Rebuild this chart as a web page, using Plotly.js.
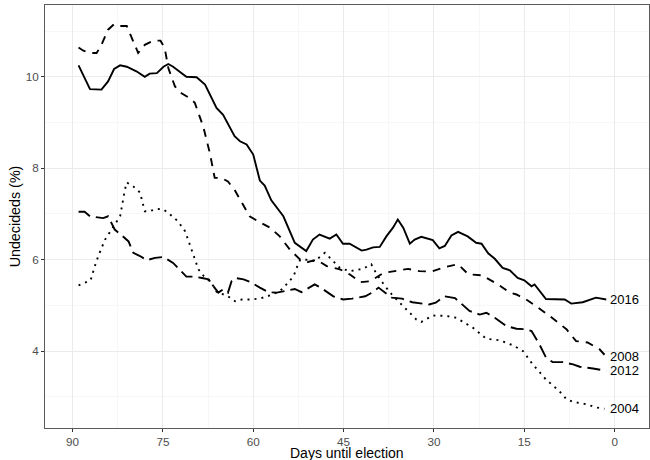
<!DOCTYPE html>
<html>
<head>
<meta charset="utf-8">
<script src="https://cdn.plot.ly/plotly-3.0.1.min.js"></script>
<style>html,body{margin:0;padding:0;background:#fff;}#chart{width:650px;height:460px;}</style>
</head>
<body>
<div id="chart"></div>
<script>
// Days until election (x) and undecided share (%) per election year
const days2016 = [89,88.2,87.1,85.2,84.1,83.1,82.1,81,79.4,78,77.2,76,74.9,74.1,73.3,71.1,69.4,68,66.1,65,63.1,62.2,61.1,60,58.9,58.1,57,55,53.9,53.1,51.2,50.1,49,47.3,46.2,45.1,44,42,41.2,40.1,39,37.9,36.8,36,35.1,34,33.2,32.1,30.2,29.1,28.2,27.1,26,24.4,23,22.1,21,19.9,18.6,17.4,16.1,15,13.8,13.3,11.4,8.3,7.2,5.3,3.1,1.4];
const vals2016 = [10.25,10.04,9.73,9.72,9.90,10.17,10.25,10.22,10.12,10.00,10.07,10.08,10.22,10.28,10.22,10.00,9.99,9.83,9.32,9.17,8.70,8.59,8.52,8.30,7.73,7.62,7.30,6.95,6.62,6.37,6.19,6.44,6.55,6.46,6.55,6.35,6.35,6.20,6.22,6.27,6.28,6.51,6.70,6.88,6.70,6.35,6.44,6.50,6.43,6.25,6.30,6.53,6.61,6.51,6.37,6.35,6.14,6.02,5.82,5.77,5.60,5.55,5.42,5.46,5.14,5.13,5.04,5.07,5.17,5.13];

const days2008 = [89,88.2,86.8,86,85.2,84.1,83.1,82.1,81,80,79.1,78,76.6,75.4,74.7,74.1,73,71.9,70.5,69.7,68.3,67.2,66.4,65.3,64.2,63.1,61.7,60.6,59.2,57.2,55.6,53.9,52.2,50.9,49.5,47.8,45.6,44,42.2,40.6,38.4,36.2,34.3,32.4,30.4,28.2,26,24.3,22.1,19.6,17.4,16.3,14.7,13,10.8,8,6.4,4.5,2.5,1.4];
const vals2008 = [10.64,10.57,10.52,10.52,10.70,11.03,11.15,11.11,11.11,10.81,10.52,10.70,10.79,10.79,10.63,10.19,9.79,9.64,9.53,9.43,8.91,8.33,7.79,7.79,7.71,7.53,7.21,6.95,6.84,6.70,6.51,6.22,6.00,5.95,6.00,5.86,5.79,5.68,5.51,5.53,5.71,5.75,5.80,5.75,5.74,5.84,5.90,5.68,5.66,5.48,5.28,5.24,5.13,4.98,4.77,4.48,4.22,4.19,4.04,3.88];

const days2012 = [89,88,87.1,84.9,84.1,83,81.8,80.7,79.9,78.8,77.7,76.3,74.9,73.3,71.1,69.7,68.5,67.4,66.6,65.8,65,64.2,63.6,63,61.6,60.3,58.9,57.5,56.1,55,53.1,52,50.6,49.8,48.7,47.8,46.7,45.1,43.6,41.4,40.3,39.2,37.8,37,35.3,33.6,30.8,29.7,28.3,26.5,24.1,22.4,21.3,19.9,18,16.3,14.7,13.8,12.5,11.4,10.3,8.6,6.9,5.8,3.6,1.4];
const vals2012 = [7.05,7.05,6.95,6.91,6.95,6.66,6.53,6.40,6.15,6.08,5.99,6.04,6.06,5.93,5.63,5.63,5.60,5.57,5.42,5.28,5.35,5.28,5.53,5.60,5.57,5.50,5.39,5.29,5.28,5.31,5.36,5.29,5.39,5.46,5.38,5.29,5.20,5.13,5.15,5.20,5.28,5.39,5.24,5.17,5.15,5.07,5.02,5.06,5.20,5.16,4.88,4.80,4.84,4.73,4.55,4.49,4.48,4.44,4.15,3.86,3.76,3.76,3.71,3.66,3.62,3.57];

const days2004 = [89,88,87,86.3,85.7,84.6,83.5,82.1,81.3,81,79.9,78.8,78,77.2,76.1,74.9,73.8,72.5,71.3,70.5,69.6,69.1,68.2,67.2,66.6,66,64.9,63.8,63,61.9,60.5,58.9,57.2,55.6,54.5,53.3,52.8,52.2,51.2,49.8,48.1,47,45.6,44,41.8,40.4,39.5,38.1,37,35.9,34.3,32.9,32.1,30.2,27.9,26.3,23.5,21.3,19.1,16.9,15.2,13.6,11.4,9.2,8,6.9,4.7,3.1,1.7];
const vals2004 = [5.44,5.50,5.55,5.86,6.09,6.44,6.66,6.95,7.53,7.69,7.60,7.47,7.06,7.06,7.11,7.10,6.99,6.84,6.62,6.30,5.96,5.79,5.64,5.53,5.42,5.28,5.24,5.17,5.09,5.13,5.13,5.15,5.22,5.31,5.46,5.64,5.82,6.00,6.00,5.97,6.15,6.00,5.82,5.75,5.80,5.90,5.68,5.42,5.24,5.09,4.88,4.69,4.64,4.78,4.77,4.73,4.51,4.27,4.24,4.13,4.00,3.71,3.38,3.13,2.95,2.89,2.84,2.77,2.74];

const years = ["2016","2008","2012","2004"];
const xTickVals = [90,75,60,45,30,15,0];
const yTickVals = [4,6,8,10];
const xTitle = "Days until election";
const yTitle = "Undecideds (%)";

const seriesX = [days2016, days2008, days2012, days2004];
const seriesY = [vals2016, vals2008, vals2012, vals2004];
const dashes = ["solid", "8px,7px", "13px,6px", "2px,5px"];

const traces = years.map((yr, i) => ({
  x: seriesX[i], y: seriesY[i], type: "scatter", mode: "lines", name: yr,
  line: {color: "#000000", width: 1.9, dash: dashes[i]},
  hoverinfo: "skip"
}));

const annotations = years.map((yr, i) => ({
  x: 0.7, y: seriesY[i][seriesY[i].length - 1], xref: "x", yref: "y",
  text: yr, showarrow: false, xanchor: "left", yanchor: "middle",
  borderpad: 0, borderwidth: 0,
  font: {family: "Liberation Sans, Arial, sans-serif", size: 13, color: "#000000"}
}));
// x-axis title, placed just under the tick labels
annotations.push({
  x: 0.5, y: 0, xref: "paper", yref: "paper", yanchor: "bottom", xanchor: "center",
  yshift: -33, text: xTitle, showarrow: false, borderpad: 0, borderwidth: 0,
  font: {family: "Liberation Sans, Arial, sans-serif", size: 14, color: "#000000"}
});

const axisCommon = {
  ticks: "outside", ticklen: 3, tickwidth: 1, tickcolor: "#333333",
  showline: true, mirror: true, linecolor: "#5a5a5a", linewidth: 1,
  showgrid: true, gridcolor: "#ebebeb", gridwidth: 1, zeroline: false,
  tickfont: {family: "Liberation Sans, Arial, sans-serif", size: 11.7, color: "#4d4d4d"}
};

const layout = {
  width: 650, height: 460,
  margin: {l: 45, r: 1, t: 5, b: 32},
  paper_bgcolor: "#ffffff", plot_bgcolor: "#ffffff",
  showlegend: false,
  font: {family: "Liberation Sans, Arial, sans-serif"},
  xaxis: Object.assign({}, axisCommon, {
    range: [94.57, -5.7], tickvals: xTickVals, ticktext: xTickVals.map(String),
    minor: {dtick: 7.5, tick0: 0, showgrid: true, gridcolor: "#f1f1f1", gridwidth: 0.6, ticks: ""},
    automargin: false
  }),
  yaxis: Object.assign({}, axisCommon, {
    range: [2.32, 11.57], tickvals: yTickVals, ticktext: yTickVals.map(String),
    minor: {dtick: 1, tick0: 0, showgrid: true, gridcolor: "#f1f1f1", gridwidth: 0.6, ticks: ""},
    title: {text: yTitle, standoff: 1, font: {size: 14.3, color: "#000000"}},
    automargin: false
  }),
  annotations: annotations
};

Plotly.newPlot("chart", traces, layout, {staticPlot: true, displayModeBar: false});
</script>
</body>
</html>
